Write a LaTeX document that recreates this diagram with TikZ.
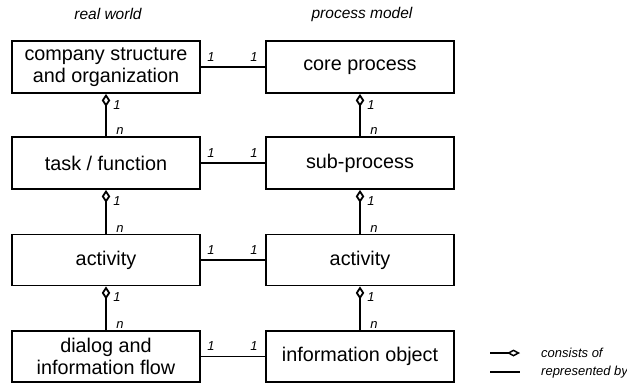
\documentclass[tikz,border=0pt]{standalone}
\usepackage{fontspec}
\setmainfont{Liberation Sans}
\usetikzlibrary{arrows.meta}
\begin{document}
\begin{tikzpicture}[x=1pt,y=-1pt,
  box/.style={draw,line width=1.8pt,minimum width=188pt,minimum height=52pt,
    inner sep=0pt,align=center,font=\fontsize{19.8}{22.5}\selectfont},
  link/.style={line width=1.8pt},
  part/.style={line width=1.8pt,-{Diamond[open,length=13pt,width=8.5pt]}},
  mult/.style={font=\fontsize{13}{14}\selectfont\itshape,inner sep=0pt},
  head/.style={font=\fontsize{15.5}{18}\selectfont\itshape,inner sep=0pt},
  legend/.style={font=\fontsize{13}{15}\selectfont\itshape,inner sep=0pt,anchor=west}]
\useasboundingbox (0,0) rectangle (627,383);

% column headings
\node[head] (hl) at (108,14) {real world};
\node[head] (hr) at (362,14) {process model};

% real world column
\node[box] (l1) at (106,67) {company structure\\and organization};
\node[box] (l2) at (106,163) {task / function};
\node[box,minimum height=51pt] (l3) at (106,260) {activity};
\node[box,minimum height=51pt] (l4) at (106,356.5) {dialog and\\information flow};

% process model column
\node[box] (r1) at (360,67) {core process};
\node[box] (r2) at (360,163) {sub-process};
\node[box,minimum height=51pt] (r3) at (360,260) {activity};
\node[box,minimum height=51pt] (r4) at (360,356.5) {information object};

% composition links with multiplicities
\foreach \u/\d in {l1/l2,l2/l3,l3/l4,r1/r2,r2/r3,r3/r4}{
  \draw[part] (\d.north) -- (\u.south);
  \node[mult] at ([xshift=11pt,yshift=-11pt]\u.south) {1};
  \node[mult] at ([xshift=14pt,yshift=5pt]\d.north) {n};
}

% correspondence links with multiplicities
\foreach \a/\b in {l1/r1,l2/r2,l3/r3,l4/r4}{
  \draw[link] (\a.east) -- (\b.west);
  \node[mult] at ([xshift=10pt,yshift=10pt]\a.east) {1};
  \node[mult] at ([xshift=-11pt,yshift=10pt]\b.west) {1};
}

% legend
\coordinate (c0) at (490,353);
\coordinate (c1) at (520,353);
\coordinate (d0) at (490,372);
\coordinate (d1) at (520,372);
\draw[line width=1.5pt,-{Diamond[open,length=13pt,width=7pt]}] (c0) -- (c1);
\draw[line width=1.5pt] (d0) -- (d1);
\node[legend] (lc) at (541,353) {consists of};
\node[legend] (ld) at (541,372) {represented by};
\end{tikzpicture}
\end{document}
